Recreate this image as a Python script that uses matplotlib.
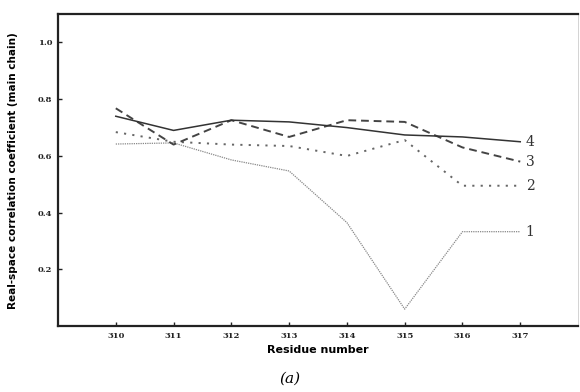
import matplotlib
matplotlib.use("Agg")
import matplotlib.pyplot as plt

residues = [310, 311, 312, 313, 314, 315, 316, 317]
series1 = [0.642, 0.646, 0.586, 0.547, 0.365, 0.06, 0.333, 0.333]
series2 = [0.684, 0.650, 0.640, 0.635, 0.600, 0.656, 0.495, 0.495]
series3 = [0.768, 0.640, 0.726, 0.667, 0.726, 0.720, 0.630, 0.580]
series4 = [0.740, 0.690, 0.726, 0.720, 0.700, 0.674, 0.667, 0.650]
labels = ["1", "2", "3", "4"]
yticks = [0.2, 0.4, 0.6, 0.8, 1.0]
ytick_labels = ["0.2", "0.4", "0.6", "0.8", "1.0"]

fig = plt.figure(figsize=(5.8, 3.92), dpi=100)
ax = fig.add_axes([0.1, 0.168, 0.8966, 0.796])

ax.plot(residues, series1, color="#888888", lw=0.9, ls=(0, (1, 0.8)))
ax.plot(residues, series2, color="#666666", lw=1.4, ls=(0, (1.1, 3.2)))
ax.plot(residues, series3, color="#444444", lw=1.4, ls=(0, (4, 2.5)))
ax.plot(residues, series4, color="#333333", lw=1.1, ls="-")

for lab, s in zip(labels, [series1, series2, series3, series4]):
    ax.annotate(lab, (residues[-1], s[-1]), xytext=(4, 0), textcoords="offset points",
                va="center", ha="left", fontsize=10, family="DejaVu Serif", color="#333333")

ax.set_xlim(309, 318)
ax.set_ylim(0, 1.1)
ax.set_xticks(residues)
ax.set_xticklabels([str(r) for r in residues], family="DejaVu Serif", fontsize=6, fontweight="bold")
ax.set_yticks(yticks)
ax.set_yticklabels(ytick_labels, family="DejaVu Serif", fontsize=6, fontweight="bold")
ax.tick_params(direction="in", length=3, width=1, pad=4, colors="#222222")

for side in ["left", "bottom", "top"]:
    ax.spines[side].set_linewidth(1.6)
    ax.spines[side].set_color("#222222")
ax.spines["right"].set_linewidth(0.6)
ax.spines["right"].set_color("#cccccc")

ax.set_xlabel("Residue number", fontsize=8, fontweight="bold", family="DejaVu Sans", labelpad=4)
ax.set_ylabel("Real-space correlation coefficient (main chain)", fontsize=7.5, fontweight="bold",
              family="DejaVu Sans", labelpad=14)

fig.text(0.5, 0.035, "(a)", ha="center", va="center", fontsize=11, style="italic", family="DejaVu Serif")

fig.savefig("out.png", dpi=100)
